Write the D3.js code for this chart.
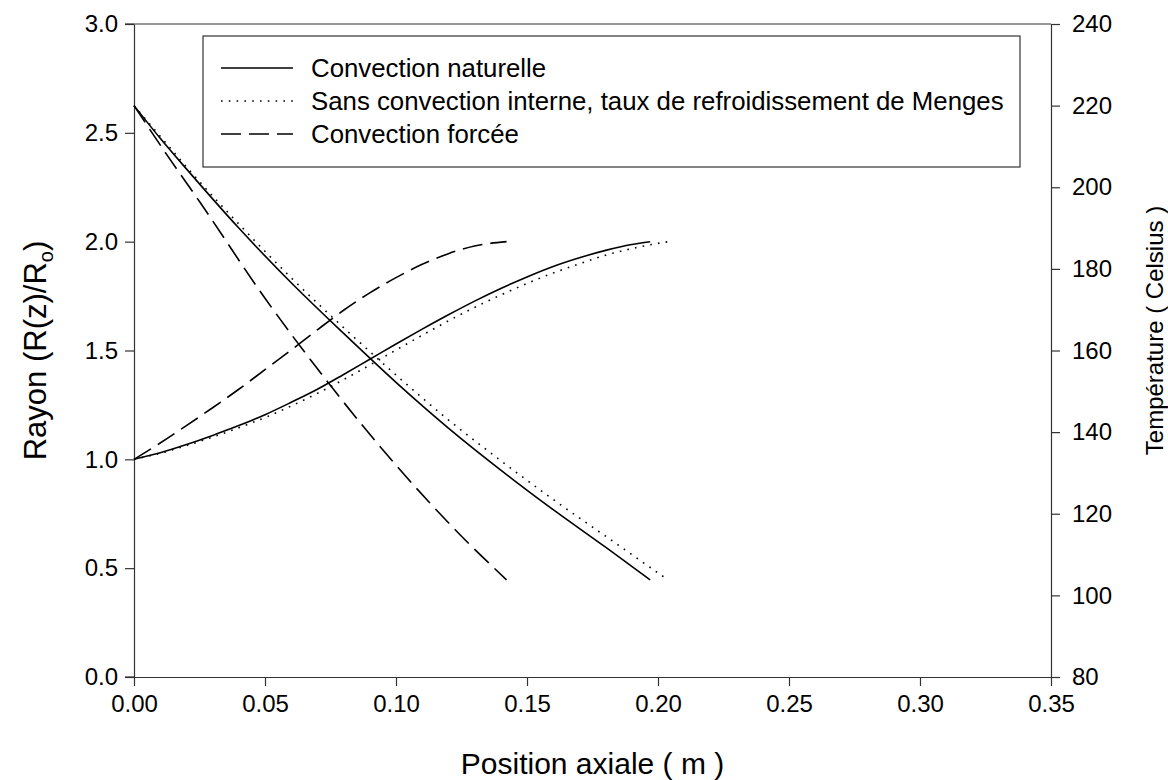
<!DOCTYPE html>
<html>
<head>
<meta charset="utf-8">
<script src="https://cdn.jsdelivr.net/npm/d3@7"></script>
<style>
  body { margin: 0; background: #fff; }
  svg text { font-family: Arial, "Liberation Sans", sans-serif; fill: #000; }
</style>
</head>
<body>
<div id="chart"></div>
<script>
// Position axiale (m) / rayon R(z)/Ro -- left axis
const radNatZ = [0, 0.01, 0.02, 0.03, 0.04, 0.05, 0.06, 0.07, 0.08, 0.09, 0.10, 0.11, 0.12, 0.13, 0.14, 0.15, 0.16, 0.17, 0.18, 0.19, 0.197];
const radNat  = [1.000, 1.030, 1.068, 1.110, 1.155, 1.205, 1.262, 1.322, 1.390, 1.460, 1.530, 1.598, 1.664, 1.727, 1.785, 1.838, 1.886, 1.926, 1.960, 1.987, 2.000];
const radMenZ = [0, 0.01, 0.02, 0.03, 0.04, 0.05, 0.06, 0.07, 0.08, 0.09, 0.10, 0.11, 0.12, 0.13, 0.14, 0.15, 0.16, 0.17, 0.18, 0.19, 0.20, 0.204];
const radMen  = [1.000, 1.028, 1.063, 1.102, 1.145, 1.192, 1.245, 1.303, 1.366, 1.433, 1.502, 1.570, 1.636, 1.698, 1.755, 1.808, 1.856, 1.898, 1.938, 1.968, 1.992, 2.000];
const radForZ = [0, 0.01, 0.02, 0.03, 0.04, 0.05, 0.06, 0.07, 0.08, 0.09, 0.10, 0.11, 0.12, 0.13, 0.1422];
const radFor  = [1.000, 1.075, 1.155, 1.237, 1.322, 1.412, 1.502, 1.595, 1.685, 1.765, 1.835, 1.896, 1.945, 1.980, 2.000];

// Temperature (Celsius) -- right axis
const tempNatZ = [0, 0.01, 0.02, 0.04, 0.06, 0.08, 0.10, 0.12, 0.14, 0.16, 0.18, 0.197];
const tempNat  = [220, 212, 204.5, 190, 176.6, 164.2, 152.2, 141, 130.7, 121, 111.8, 103.8];
const tempMenZ = [0, 0.01, 0.02, 0.04, 0.06, 0.08, 0.10, 0.12, 0.14, 0.16, 0.18, 0.2027];
const tempMen  = [220, 212.5, 205, 191, 177.8, 165.6, 154, 143, 133, 123.5, 114.5, 104.3];
const tempForZ = [0, 0.0125, 0.025, 0.05, 0.075, 0.10, 0.125, 0.1422];
const tempFor  = [220, 208, 196.5, 172.8, 151.4, 131.9, 114.5, 103.8];

const xTicks = [0, 0.05, 0.10, 0.15, 0.20, 0.25, 0.30, 0.35];
const yTicks = [0, 0.5, 1.0, 1.5, 2.0, 2.5, 3.0];
const y2Ticks = [80, 100, 120, 140, 160, 180, 200, 220, 240];

const legendLabels = [
  "Convection naturelle",
  "Sans convection interne, taux de refroidissement de Menges",
  "Convection forcée"
];

const W = 1168, H = 780;
const margin = { top: 24, left: 134, right: 117, bottom: 103 };
const width = W - margin.left - margin.right;
const height = H - margin.top - margin.bottom;

const x = d3.scaleLinear().domain([0, 0.35]).range([0, width]);
const y = d3.scaleLinear().domain([0, 3]).range([height, 0]);
const y2 = d3.scaleLinear().domain([80, 240]).range([height, 0]);

const svg = d3.select("#chart").append("svg")
    .attr("width", W)
    .attr("height", H);

const g = svg.append("g")
    .attr("transform", `translate(${margin.left},${margin.top})`);

// frame line on top
g.append("line")
    .attr("x1", 0).attr("x2", width)
    .attr("y1", 0).attr("y2", 0)
    .attr("stroke", "#333").attr("stroke-width", 1.2);

const xAxis = g.append("g")
    .attr("transform", `translate(0,${height})`)
    .call(d3.axisBottom(x).tickValues(xTicks).tickFormat(d3.format(".2f")).tickSize(9).tickPadding(9).tickSizeOuter(0));

const yAxis = g.append("g")
    .call(d3.axisLeft(y).tickValues(yTicks).tickFormat(d3.format(".1f")).tickSize(9).tickPadding(7).tickSizeOuter(0));

const y2Axis = g.append("g")
    .attr("transform", `translate(${width},0)`)
    .call(d3.axisRight(y2).tickValues(y2Ticks).tickFormat(d3.format("d")).tickSize(9).tickPadding(12).tickSizeOuter(0));

[xAxis, yAxis, y2Axis].forEach(a => {
    a.selectAll("path").attr("stroke", "#333").attr("stroke-width", 1.2);
    a.selectAll("line").attr("stroke", "#333").attr("stroke-width", 1.2);
    a.selectAll("text").attr("font-size", 24).attr("fill", "#000");
});

// short extensions of the frame past the left axis
g.append("line")
    .attr("x1", -9).attr("x2", 0)
    .attr("y1", height).attr("y2", height)
    .attr("stroke", "#333").attr("stroke-width", 1.2);
g.append("line")
    .attr("x1", -9).attr("x2", 0)
    .attr("y1", 0).attr("y2", 0)
    .attr("stroke", "#333").attr("stroke-width", 1.2);

const styles = [
    { dash: null },
    { dash: "1.6,6.2" },
    { dash: "20,8" }
];

const lineR = d3.line().x(d => x(d[0])).y(d => y(d[1])).curve(d3.curveMonotoneX);
const lineT = d3.line().x(d => x(d[0])).y(d => y2(d[1])).curve(d3.curveMonotoneX);

const radSeries = [
    d3.zip(radNatZ, radNat),
    d3.zip(radMenZ, radMen),
    d3.zip(radForZ, radFor)
];
const tempSeries = [
    d3.zip(tempNatZ, tempNat),
    d3.zip(tempMenZ, tempMen),
    d3.zip(tempForZ, tempFor)
];

radSeries.forEach((s, i) => {
    g.append("path")
        .datum(s)
        .attr("d", lineR)
        .attr("fill", "none")
        .attr("stroke", "#000")
        .attr("stroke-width", 1.6)
        .attr("stroke-dasharray", styles[i].dash);
});
tempSeries.forEach((s, i) => {
    g.append("path")
        .datum(s)
        .attr("d", lineT)
        .attr("fill", "none")
        .attr("stroke", "#000")
        .attr("stroke-width", 1.6)
        .attr("stroke-dasharray", styles[i].dash);
});

// legend
const legend = g.append("g").attr("transform", "translate(69,12)");
legend.append("rect")
    .attr("width", 817).attr("height", 131)
    .attr("fill", "#fff")
    .attr("stroke", "#333").attr("stroke-width", 1.2);

legendLabels.forEach((lab, i) => {
    const ly = 32 + i * 33;
    legend.append("line")
        .attr("x1", 18).attr("x2", 90)
        .attr("y1", ly).attr("y2", ly)
        .attr("stroke", "#000").attr("stroke-width", 1.6)
        .attr("stroke-dasharray", styles[i].dash);
    legend.append("text")
        .attr("x", 108).attr("y", ly)
        .attr("dy", "0.35em")
        .attr("font-size", 25.8)
        .text(lab);
});

// axis titles
svg.append("text")
    .attr("x", margin.left + x(0.175))
    .attr("y", 774)
    .attr("text-anchor", "middle")
    .attr("font-size", 30)
    .text("Position axiale ( m )");

const leftTitle = svg.append("text")
    .attr("transform", `translate(46,${margin.top + height / 2}) rotate(-90)`)
    .attr("text-anchor", "middle")
    .attr("font-size", 31);
leftTitle.append("tspan").text("Rayon (R(z)/R");
leftTitle.append("tspan").attr("font-size", 20).attr("dy", 7).text("o");
leftTitle.append("tspan").attr("dy", -7).text(")");

svg.append("text")
    .attr("transform", `translate(1163,${margin.top + height / 2 - 20}) rotate(-90)`)
    .attr("text-anchor", "middle")
    .attr("font-size", 24)
    .text("Température ( Celsius )");
</script>
</body>
</html>
